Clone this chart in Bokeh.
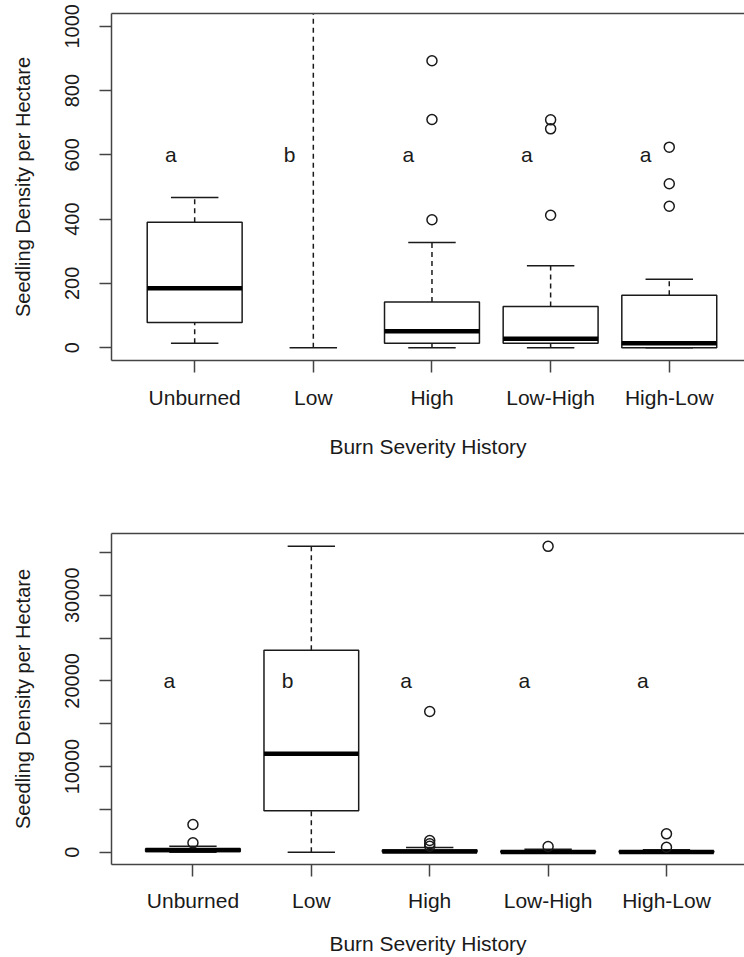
from bokeh.plotting import figure
from bokeh.models import Range1d, FixedTicker, LinearAxis, ColumnDataSource
from bokeh.layouts import column
from bokeh.embed import file_html
from bokeh.resources import INLINE
from bokeh.core.properties import value

categories = ["Unburned", "Low", "High", "Low-High", "High-Low"]
letters = ["a", "b", "a", "a", "a"]
x_label = "Burn Severity History"
y_label = "Seedling Density per Hectare"

# ---- top panel (box statistics) ----
# Low: only the lower whisker (0) is visible; its box lies above the shown range
p1_lower = [14, 0, 0, 0, 0]
p1_q1 = [78, 1100, 14, 14, 0]
p1_median = [185, 1300, 51, 28, 14]
p1_q3 = [390, 1500, 142, 128, 163]
p1_upper = [467, 1700, 327, 255, 213]
p1_outliers = [[], [], [893, 710, 398], [709, 681, 412], [624, 510, 440]]
p1_letter_y = 600
p1_yticks = [0, 200, 400, 600, 800, 1000]
p1_yhidden = []

# ---- bottom panel ----
p2_lower = [0, 0, 0, 0, 0]
p2_q1 = [100, 4835, 20, 10, 0]
p2_median = [250, 11500, 80, 40, 30]
p2_q3 = [400, 23560, 250, 150, 150]
p2_upper = [700, 35700, 550, 350, 300]
p2_outliers = [[3235, 1100], [], [16430, 1370, 980, 700], [35700, 670], [2150, 590]]
p2_letter_y = 20000
p2_yticks = [0, 5000, 10000, 15000, 20000, 25000, 30000, 35000]
p2_yhidden = [5000, 15000, 25000, 35000]

FONT = "Liberation Sans"
INK = "#1a1a1a"
AXC = "#444444"
BOXW = 0.8
CAPW = 0.4


def panel(lower, q1, med, q3, upper, outliers, letter_y, yticks, yhidden,
          yr, xr, height, b_top, b_bottom, b_left, xl_standoff, xa_standoff):
    xs = list(range(1, len(categories) + 1))
    p = figure(width=744, height=height, x_range=Range1d(*xr), y_range=Range1d(*yr),
               output_backend="svg", toolbar_location=None,
               min_border_left=b_left, min_border_right=0,
               min_border_top=b_top, min_border_bottom=b_bottom)
    p.outline_line_color = None
    p.xgrid.visible = False
    p.ygrid.visible = False
    p.background_fill_color = "white"
    p.border_fill_color = "white"

    src = ColumnDataSource(dict(
        x=xs, lower=lower, q1=q1, med=med, q3=q3, upper=upper,
        x0=[x - BOXW / 2 for x in xs], x1=[x + BOXW / 2 for x in xs],
        c0=[x - CAPW / 2 for x in xs], c1=[x + CAPW / 2 for x in xs],
        lx=[x - 0.2 for x in xs], ly=[letter_y] * len(xs), lt=letters))

    # whiskers (dashed)
    p.segment(x0="x", x1="x", y0="q3", y1="upper", source=src,
              line_color=INK, line_width=1.5, line_dash="5 4")
    p.segment(x0="x", x1="x", y0="lower", y1="q1", source=src,
              line_color=INK, line_width=1.5, line_dash="5 4")
    # caps
    p.segment(x0="c0", x1="c1", y0="upper", y1="upper", source=src,
              line_color=INK, line_width=1.5)
    p.segment(x0="c0", x1="c1", y0="lower", y1="lower", source=src,
              line_color=INK, line_width=1.5)
    # boxes
    p.quad(left="x0", right="x1", bottom="q1", top="q3", source=src,
           fill_color="white", line_color=INK, line_width=1.5)
    # medians
    p.segment(x0="x0", x1="x1", y0="med", y1="med", source=src,
              line_color="black", line_width=4.5)
    # outliers
    ox, oy = [], []
    for x, vals in zip(xs, outliers):
        for v in vals:
            ox.append(x)
            oy.append(v)
    p.scatter(ox, oy, marker="circle", size=10, fill_color=None,
              line_color=INK, line_width=1.5)
    # group letters
    p.text(x="lx", y="ly", text="lt", source=src, text_font=value(FONT),
           text_font_size="21px", text_color=INK, text_align="center",
           text_baseline="middle")

    # x axis
    xa = p.xaxis[0]
    xa.ticker = FixedTicker(ticks=xs)
    xa.major_label_overrides = {x: c for x, c in zip(xs, categories)}
    xa.axis_label = x_label
    # y axis
    ya = p.yaxis[0]
    ya.ticker = FixedTicker(ticks=yticks)
    ya.major_label_overrides = {t: "" for t in yhidden}
    ya.axis_label = y_label
    ya.major_label_orientation = "parallel"
    for ax in (xa, ya):
        ax.axis_line_color = AXC
        ax.axis_line_width = 1.5
        ax.major_tick_line_color = AXC
        ax.major_tick_line_width = 1.5
        ax.major_tick_in = 0
        ax.major_tick_out = 12
        ax.minor_tick_line_color = None
        ax.major_label_text_font = FONT
        ax.major_label_text_color = INK
        ax.axis_label_text_font = FONT
        ax.axis_label_text_font_style = "normal"
        ax.axis_label_text_color = INK
    xa.major_label_text_font_size = "21px"
    xa.axis_label_text_font_size = "21px"
    ya.major_label_text_font_size = "20px"
    ya.axis_label_text_font_size = "20px"
    xa.major_label_standoff = xl_standoff
    xa.axis_label_standoff = xa_standoff
    ya.major_label_standoff = 20
    ya.axis_label_standoff = 29

    top = LinearAxis(ticker=FixedTicker(ticks=[]), major_tick_out=0, major_tick_in=0,
                     major_label_text_font_size="0px", major_label_standoff=0,
                     axis_line_color=AXC, axis_line_width=1.5,
                     minor_tick_line_color=None)
    p.add_layout(top, "above")
    return p


p1 = panel(p1_lower, p1_q1, p1_median, p1_q3, p1_upper, p1_outliers, p1_letter_y,
           p1_yticks, p1_yhidden, yr=(-40, 1040), xr=(0.299, 5.634),
           height=470, b_top=13, b_bottom=110, b_left=109,
           xl_standoff=13, xa_standoff=23)
p2 = panel(p2_lower, p2_q1, p2_median, p2_q3, p2_upper, p2_outliers, p2_letter_y,
           p2_yticks, p2_yhidden, yr=(-1430, 37200), xr=(0.312, 5.659),
           height=487, b_top=63, b_bottom=93, b_left=111,
           xl_standoff=12, xa_standoff=17)

layout = column(p1, p2, spacing=0)
open("out.html", "w").write(file_html(layout, INLINE))
